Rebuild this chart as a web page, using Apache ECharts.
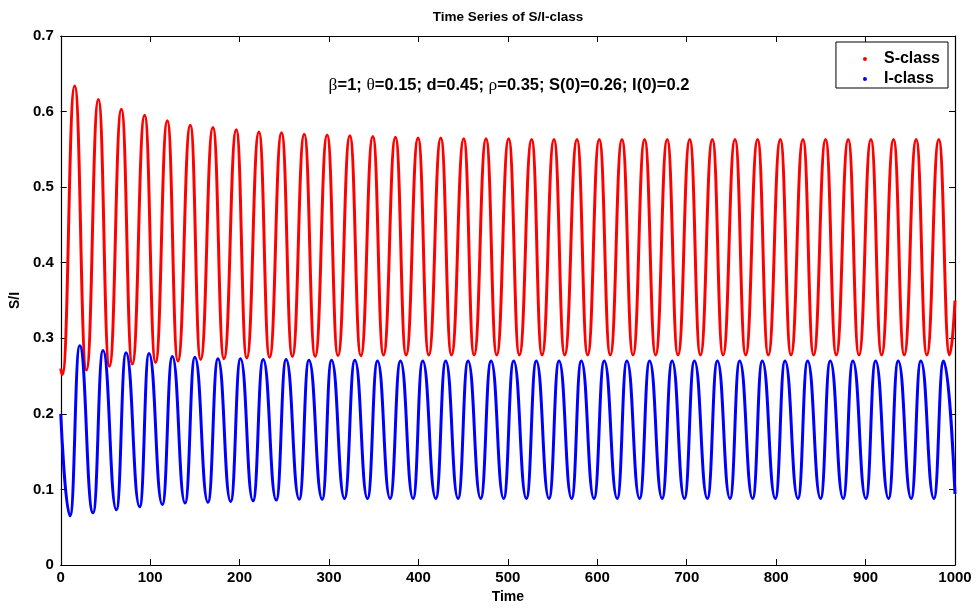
<!DOCTYPE html>
<html>
<head>
<meta charset="utf-8">
<script src="https://cdn.jsdelivr.net/npm/echarts@6/dist/echarts.min.js"></script>
<style>
html,body{margin:0;padding:0;background:#fff;}
#chart{width:978px;height:610px;}
</style>
</head>
<body>
<div id="chart"></div>
<script>
// ---- Data (extrema of each oscillation) ----
var sPeakTime = [15.6,42.1,67.8,93.8,119.2,144.9,170.2,196.3,221.6,246.9,
  272.3,297.9,323.3,349.0,374.3,399.6,425.0,450.7,475.6,500.9,
  526.6,551.6,577.3,602.2,627.6,652.9,678.2,703.4,728.7,754.0,
  779.3,804.7,830.0,855.3,880.6,906.0,931.3,956.6,981.9];
var sPeakValue = [0.634,0.616,0.603,0.595,0.588,0.582,0.579,0.576,0.573,0.572,
  0.570,0.569,0.568,0.567,0.566,0.565,0.565,0.564,0.564,0.564,
  0.563,0.563,0.563,0.563,0.563,0.563,0.563,0.563,0.563,0.563,
  0.563,0.563,0.563,0.563,0.563,0.563,0.563,0.563,0.563];
// troughs plus start and end points
var sLowTime = [0,1.8,
  28.7,54.4,80.0,106.0,131.0,156.4,182.5,208.0,233.5,259.0,
  284.5,310.0,335.6,360.9,386.2,411.5,436.9,462.2,487.5,512.8,
  538.2,563.5,589.2,614.5,639.9,665.2,690.2,715.3,740.6,765.9,
  791.2,816.6,841.9,867.2,892.6,917.9,943.2,968.5,993.9,
  1000];
var sLowValue = [0.260,0.252,
  0.258,0.263,0.266,0.268,0.270,0.272,0.273,0.274,0.275,0.276,
  0.276,0.277,0.277,0.278,0.278,0.278,0.278,0.278,0.278,0.278,
  0.278,0.278,0.278,0.278,0.278,0.278,0.278,0.278,0.278,0.278,
  0.278,0.278,0.278,0.278,0.278,0.278,0.278,0.278,0.278,
  0.350];

var iPeakTime = [21.2,47.3,73.0,98.7,124.8,150.0,175.8,201.0,226.4,252.0,
  277.5,302.8,328.9,354.2,379.9,404.8,430.5,455.5,481.2,506.5,
  531.8,557.2,582.1,607.8,633.1,658.5,683.7,708.6,734.3,759.2,
  784.5,809.9,835.2,860.5,885.8,911.2,936.5,961.8,987.2];
var iPeakValue = [0.290,0.284,0.281,0.280,0.276,0.275,0.273,0.273,0.272,0.272,
  0.271,0.271,0.271,0.270,0.270,0.270,0.270,0.270,0.270,0.270,
  0.270,0.270,0.270,0.270,0.270,0.270,0.270,0.270,0.270,0.270,
  0.270,0.270,0.270,0.270,0.270,0.270,0.270,0.270,0.270];
var iLowTime = [0,
  10.4,36.1,62.2,88.3,113.6,139.0,164.6,190.0,215.0,241.0,
  266.7,292.4,317.3,343.0,368.3,394.0,419.4,444.3,469.6,495.3,
  520.7,546.0,571.3,596.3,622.3,647.3,672.5,697.4,723.1,748.4,
  773.7,799.1,824.4,849.7,875.0,900.4,925.7,951.0,976.4,
  1000];
var iLowValue = [0.200,
  0.065,0.069,0.073,0.077,0.080,0.082,0.083,0.084,0.085,0.086,
  0.087,0.087,0.088,0.088,0.088,0.088,0.088,0.088,0.088,0.088,
  0.088,0.088,0.088,0.088,0.088,0.088,0.088,0.088,0.088,0.088,
  0.088,0.088,0.088,0.088,0.088,0.088,0.088,0.088,0.088,
  0.094];

var xTicks = [0,100,200,300,400,500,600,700,800,900,1000];
var yTicks = [0,0.1,0.2,0.3,0.4,0.5,0.6,0.7];
var seriesNames = ['S-class','I-class'];

function merge(t1, v1, t2, v2) {
  var pts = [];
  for (var i = 0; i < t1.length; i++) pts.push([t1[i], v1[i]]);
  for (var j = 0; j < t2.length; j++) pts.push([t2[j], v2[j]]);
  pts.sort(function (a, b) { return a[0] - b[0]; });
  return pts;
}
var sData = merge(sPeakTime, sPeakValue, sLowTime, sLowValue);
var iData = merge(iPeakTime, iPeakValue, iLowTime, iLowValue);

var FONT = '"Liberation Sans", Arial, Helvetica, sans-serif';
var chart = echarts.init(document.getElementById('chart'), null, {renderer: 'canvas'});

var tickCommon = {show: true, inside: true, length: 6, lineStyle: {color: '#000', width: 1}};
var lineCommon = {show: true, onZero: false, lineStyle: {color: '#000', width: 1.2}};

chart.setOption({
  animation: false,
  backgroundColor: '#fff',
  grid: {left: 60, right: 23, top: 36, bottom: 45, containLabel: false},
  graphic: [
    {type: 'text', x: 508, y: 10,
      style: {text: 'Time Series of S/I-class', font: 'bold 13.5px ' + FONT, fill: '#000', textAlign: 'center'}},
    {type: 'text', x: 509, y: 76,
      style: {
        text: '{g|β}=1; {g|θ}=0.15; d=0.45; {g|ρ}=0.35; S(0)=0.26; I(0)=0.2',
        font: 'bold 16.5px ' + FONT, fill: '#000', textAlign: 'center',
        rich: {g: {fontFamily: '"Liberation Serif", "DejaVu Serif", serif', fontWeight: 'normal', fontSize: 17.5, fill: '#000'}}
      }}
  ],
  legend: {
    data: seriesNames,
    orient: 'vertical',
    right: 30, top: 42,
    icon: 'circle',
    itemWidth: 4, itemHeight: 4,
    itemGap: 4,
    padding: [9, 8, 1, 27],
    borderColor: '#000', borderWidth: 1,
    backgroundColor: '#fff',
    textStyle: {fontFamily: FONT, fontWeight: 'bold', fontSize: 16, color: '#000', padding: [0, 0, 0, 12]}
  },
  xAxis: [
    {type: 'value', min: 0, max: 1000, interval: 100, position: 'bottom',
      name: 'Time', nameLocation: 'middle', nameGap: 25,
      nameTextStyle: {fontFamily: FONT, fontWeight: 'bold', fontSize: 14, color: '#000'},
      axisLine: lineCommon, axisTick: tickCommon, splitLine: {show: false},
      axisLabel: {fontFamily: FONT, fontWeight: 'bold', fontSize: 15, color: '#000', margin: 5,
        formatter: function (v) { return xTicks.indexOf(v) >= 0 ? String(v) : ''; }}},
    {type: 'value', min: 0, max: 1000, interval: 100, position: 'top',
      axisLine: lineCommon, axisTick: tickCommon, splitLine: {show: false}, axisLabel: {show: false}}
  ],
  yAxis: [
    {type: 'value', min: 0, max: 0.7, interval: 0.1, position: 'left',
      name: 'S/I', nameLocation: 'middle', nameGap: 35, nameRotate: 90,
      nameTextStyle: {fontFamily: FONT, fontWeight: 'bold', fontSize: 14, color: '#000'},
      axisLine: lineCommon, axisTick: tickCommon, splitLine: {show: false},
      axisLabel: {fontFamily: FONT, fontWeight: 'bold', fontSize: 15, color: '#000', margin: 7,
        formatter: function (v) {
          for (var k = 0; k < yTicks.length; k++) {
            if (Math.abs(yTicks[k] - v) < 1e-9) return yTicks[k] === 0 ? '0' : yTicks[k].toFixed(1);
          }
          return '';
        }}},
    {type: 'value', min: 0, max: 0.7, interval: 0.1, position: 'right',
      axisLine: lineCommon, axisTick: tickCommon, splitLine: {show: false}, axisLabel: {show: false}}
  ],
  series: [
    {name: seriesNames[0], type: 'line', data: sData, smooth: 0.5, smoothMonotone: 'x',
      showSymbol: false, symbol: 'circle', color: '#ff0000',
      lineStyle: {color: '#ff0000', width: 3}, itemStyle: {color: '#ff0000'}, z: 3},
    {name: seriesNames[1], type: 'line', data: iData, smooth: 0.5, smoothMonotone: 'x',
      showSymbol: false, symbol: 'circle', color: '#0000ff',
      lineStyle: {color: '#0000ff', width: 3}, itemStyle: {color: '#0000ff'}, z: 3}
  ]
});
</script>
</body>
</html>
